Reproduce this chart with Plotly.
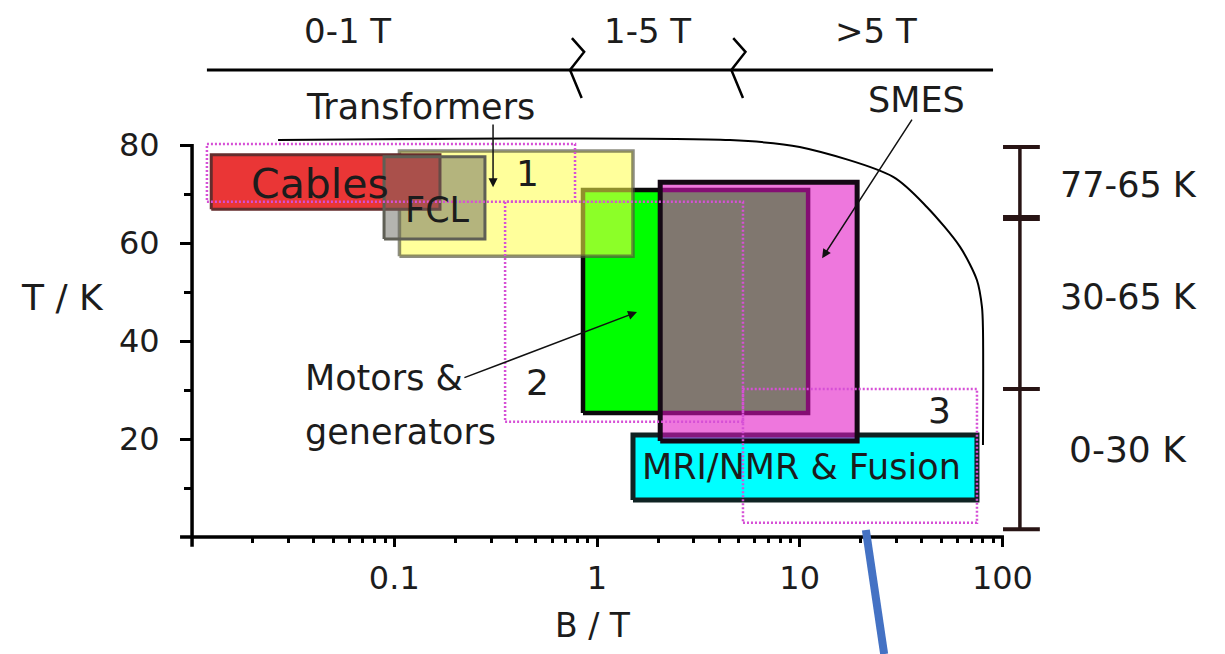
import numpy as np
import plotly.graph_objects as go

# ---------------- data ----------------
app_names = ["MRI/NMR & Fusion", "Motors & generators", "Transformers", "Cables", "FCL", "SMES"]
app_b_min = [1.505, 0.853, 0.106, 0.0125, 0.089, 2.05]
app_b_max = [74.9, 11.0, 1.505, 0.168, 0.280, 19.2]
app_t_min = [7.55, 25.3, 57.3, 66.9, 60.8, 19.6]
app_t_max = [20.8, 70.8, 78.8, 78.0, 77.6, 72.4]

region_labels = ["1", "2", "3"]
region_b_min = [0.0119, 0.352, 5.25]
region_b_max = [0.779, 5.25, 74.9]
region_t_min = [68.4, 23.5, 2.9]
region_t_max = [80.2, 68.4, 30.2]

limit_b = [0.0267, 4.53, 10.0, 28.9, 42.5, 61.8, 74.9, 79.3, 80.2, 80.2]
limit_t = [81.0, 81.0, 79.6, 73.5, 67.3, 59.2, 52.4, 46.9, 42.2, 18.8]

temp_band_edges = [79.6, 65.1, 30.2, 1.6]
temp_band_labels = ["77-65 K", "30-65 K", "0-30 K"]

field_band_labels = ["0-1 T", "1-5 T", ">5 T"]
field_band_breaks = [0.8, 5.0]

x_tickvals = [0.1, 1, 10, 100]
x_ticktext = ["0.1", "1", "10", "100"]
x_minor = [m * d for d in [0.01, 0.1, 1, 10] for m in range(2, 10)]
y_tickvals = [20, 40, 60, 80]
y_minor = [10, 30, 50, 70]

# ---------------- styles ----------------
FONT = "DejaVu Sans, Verdana, sans-serif"
TXT = "#1c1c1c"

app_fill = ["rgb(0,255,255)", "rgb(0,255,0)", "rgba(255,255,73,0.55)",
            "rgb(234,54,54)", "rgba(105,105,95,0.5)", "rgba(225,15,196,0.57)"]
app_line = ["rgb(15,35,35)", "rgb(10,10,10)", "rgba(80,80,60,0.65)",
            "rgb(100,45,45)", "rgb(95,95,85)", "rgb(20,8,20)"]
app_lw = [5, 4.5, 3.5, 3, 3, 5]

fig = go.Figure()

def rect(b0, b1, t0, t1):
    return [b0, b1, b1, b0, b0], [t0, t0, t1, t1, t0]

for i in range(len(app_names)):
    xs, ys = rect(app_b_min[i], app_b_max[i], app_t_min[i], app_t_max[i])
    fig.add_trace(go.Scatter(x=xs, y=ys, mode="lines", fill="toself",
                             fillcolor=app_fill[i],
                             line=dict(color=app_line[i], width=app_lw[i]),
                             hoverinfo="skip", showlegend=False))

for i in range(len(region_labels)):
    xs, ys = rect(region_b_min[i], region_b_max[i], region_t_min[i], region_t_max[i])
    fig.add_trace(go.Scatter(x=xs, y=ys, mode="lines",
                             line=dict(color="rgb(214,80,214)", width=2.5, dash="2px,2px"),
                             hoverinfo="skip", showlegend=False))

# limit curve
fig.add_trace(go.Scatter(x=limit_b, y=limit_t, mode="lines",
                         line=dict(color="black", width=2, shape="spline", smoothing=0.8),
                         hoverinfo="skip", showlegend=False))

def seg(xs, ys, color="black", width=3):
    fig.add_trace(go.Scatter(x=xs, y=ys, mode="lines",
                             line=dict(color=color, width=width),
                             hoverinfo="skip", showlegend=False))

# axis lines
seg([0.00877, 101.8], [0, 0], width=3.5)
seg([0.01005, 0.01005], [-2.0, 80.2], width=3.5)

# top field-band line with break marks
seg([0.0119, 89.9], [95.3, 95.3], width=3)
for b in field_band_breaks:
    seg([b * 0.94, b * 1.08, b * 0.92, b * 1.05], [101.8, 99.0, 95.3, 89.6], width=2.5)

# right temperature bracket
seg([122, 122], [temp_band_edges[0], temp_band_edges[-1]], color="rgb(40,20,20)", width=3.5)
for k, t in enumerate(temp_band_edges):
    seg([100.7, 153], [t, t], color="rgb(40,20,20)", width=6 if k == 1 else 4)

# blue stroke
seg([21.2, 26.1], [1.43, -23.9], color="#4472C4", width=8)

# ---------------- annotations ----------------
L = np.log10

def text(b, t, s, size=35, xanchor="center", align="center"):
    fig.add_annotation(x=L(b), y=t, xref="x", yref="y", text=s, showarrow=False,
                       font=dict(family=FONT, size=size, color=TXT),
                       xanchor=xanchor, yanchor="middle", align=align)

def arrow(b_tip, t_tip, b_tail, t_tail):
    fig.add_annotation(x=L(b_tip), y=t_tip, ax=L(b_tail), ay=t_tail,
                       xref="x", yref="y", axref="x", ayref="y", text="",
                       showarrow=True, arrowhead=2, arrowsize=1.2, arrowwidth=1.5,
                       arrowcolor="#111")

field_label_b = [0.0586, 1.78, 23.8]
for b, s in zip(field_label_b, field_band_labels):
    text(b, 103.3, s, size=34)

text(0.1354, 87.8, "Transformers", size=35)
arrow(0.307, 71.4, 0.307, 84.5)
text(37.5, 89.2, "SMES", size=35)
arrow(12.9, 56.9, 36.2, 85.5)
text(0.043, 72.0, "Cables", size=41)
text(0.164, 66.7, "FCL", size=35)
text(0.4516, 74.1, region_labels[0], size=36)
text(0.506, 31.6, region_labels[1], size=36)
text(49.2, 25.9, region_labels[2], size=36)
text(0.0355, 32.4, "Motors &", size=35, xanchor="left", align="left")
text(0.0355, 21.4, "generators", size=35, xanchor="left", align="left")
arrow(1.575, 45.9, 0.218, 32.4)
text(10.15, 14.3, "MRI/NMR & Fusion", size=35)
text(0.00230, 48.8, "T / K", size=36)
text(0.955, -18.0, "B / T", size=33)
for k, s in enumerate(temp_band_labels):
    text(416.6, [71.8, 49.0, 17.8][k], s, size=35 if k < 2 else 36)

# ---------------- layout ----------------
W, H = 1225, 654
OFF = 8  # page body margin
fig.update_layout(
    width=W, height=H, margin=dict(l=0, r=0, t=0, b=0),
    paper_bgcolor="white", plot_bgcolor="white",
    font=dict(family=FONT, size=34, color=TXT),
    showlegend=False,
    xaxis=dict(type="log", range=[-2.9058, 3.1376], domain=[0, 1],
               anchor="free", position=(H - (537 - OFF)) / H,
               showgrid=False, zeroline=False, showline=False,
               tickmode="array", tickvals=x_tickvals, ticktext=x_ticktext,
               ticks="outside", ticklen=9, tickwidth=3, tickcolor="black",
               ticklabelstandoff=4,
               tickfont=dict(family=FONT, size=32, color=TXT),
               minor=dict(tickmode="array", tickvals=x_minor, ticks="outside",
                          ticklen=5, tickwidth=2.5, tickcolor="black", showgrid=False)),
    yaxis=dict(range=[-25.51, 107.96], domain=[0, 1],
               anchor="free", position=(192 - OFF) / W,
               showgrid=False, zeroline=False, showline=False,
               tickmode="array", tickvals=y_tickvals,
               ticks="outside", ticklen=12, tickwidth=3, tickcolor="black",
               ticklabelstandoff=14,
               tickfont=dict(family=FONT, size=32, color=TXT),
               minor=dict(tickmode="array", tickvals=y_minor, ticks="outside",
                          ticklen=8, tickwidth=2.5, tickcolor="black", showgrid=False)),
)

fig.write_html("out.html")
